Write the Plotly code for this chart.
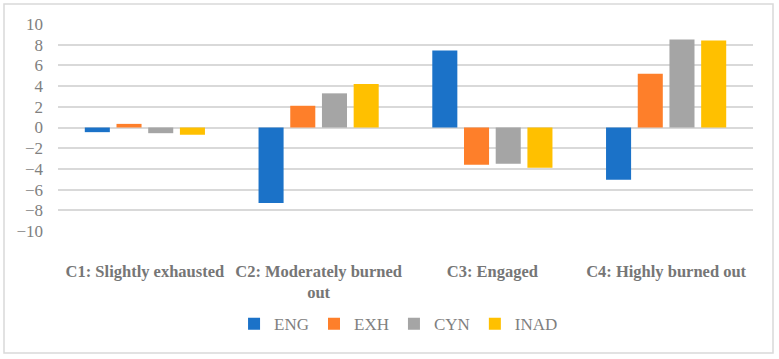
import plotly.graph_objects as go

categories = ["C1: Slightly exhausted", "C2: Moderately burned<br>out", "C3: Engaged", "C4: Highly burned out"]
series_names = ["ENG", "EXH", "CYN", "INAD"]
eng = [-0.45, -7.3, 7.45, -5.05]
exh = [0.35, 2.1, -3.6, 5.2]
cyn = [-0.55, 3.3, -3.5, 8.5]
inad = [-0.7, 4.2, -3.9, 8.4]
colors = ["#1B72C8", "#FE7F2A", "#A5A5A5", "#FFC000"]
y_ticks = list(range(-10, 11, 2))

fig = go.Figure()
for name, vals, col in zip(series_names, [eng, exh, cyn, inad], colors):
    fig.add_trace(go.Bar(name=name, x=categories, y=vals, marker=dict(color=col, line=dict(width=0))))

font = "Times New Roman"
fig.update_layout(
    width=779, height=359,
    margin=dict(l=58, r=26, t=24, b=128),
    paper_bgcolor="white", plot_bgcolor="white",
    barmode="group", bargap=0.27, bargroupgap=0.21,
    font=dict(family=font, color="#7F7F7F"),
    showlegend=True,
    legend=dict(orientation="h", x=0.49, xanchor="center", y=-0.45, yanchor="middle",
                font=dict(family=font, size=17, color="#7F7F7F"), itemwidth=30,
                traceorder="normal", tracegroupgap=0),
    xaxis=dict(showgrid=False, showline=False, zeroline=False, ticks="",
               tickfont=dict(family=font, size=16.5, color="#767676", weight="bold"),
               ticklabelstandoff=28),
    yaxis=dict(range=[-10, 10], tickvals=y_ticks, ticktext=[("\u2212" + str(-v)) if v < 0 else str(v) for v in y_ticks],
               showgrid=True, gridcolor="#D9D9D9", gridwidth=1.5,
               zeroline=True, zerolinecolor="#D9D9D9", zerolinewidth=1.5,
               showline=False, ticks="", ticklabelstandoff=14,
               tickfont=dict(family=font, size=17, color="#808080")),
    shapes=[dict(type="rect", xref="paper", yref="paper",
                 x0=(4 - 58) / 695, x1=(773 - 58) / 695,
                 y0=-(353 - 231) / 207, y1=1 + 20 / 207,
                 line=dict(color="#D9D9D9", width=1.5), fillcolor="rgba(0,0,0,0)", layer="below")],
)

fig.write_html("out.html")
